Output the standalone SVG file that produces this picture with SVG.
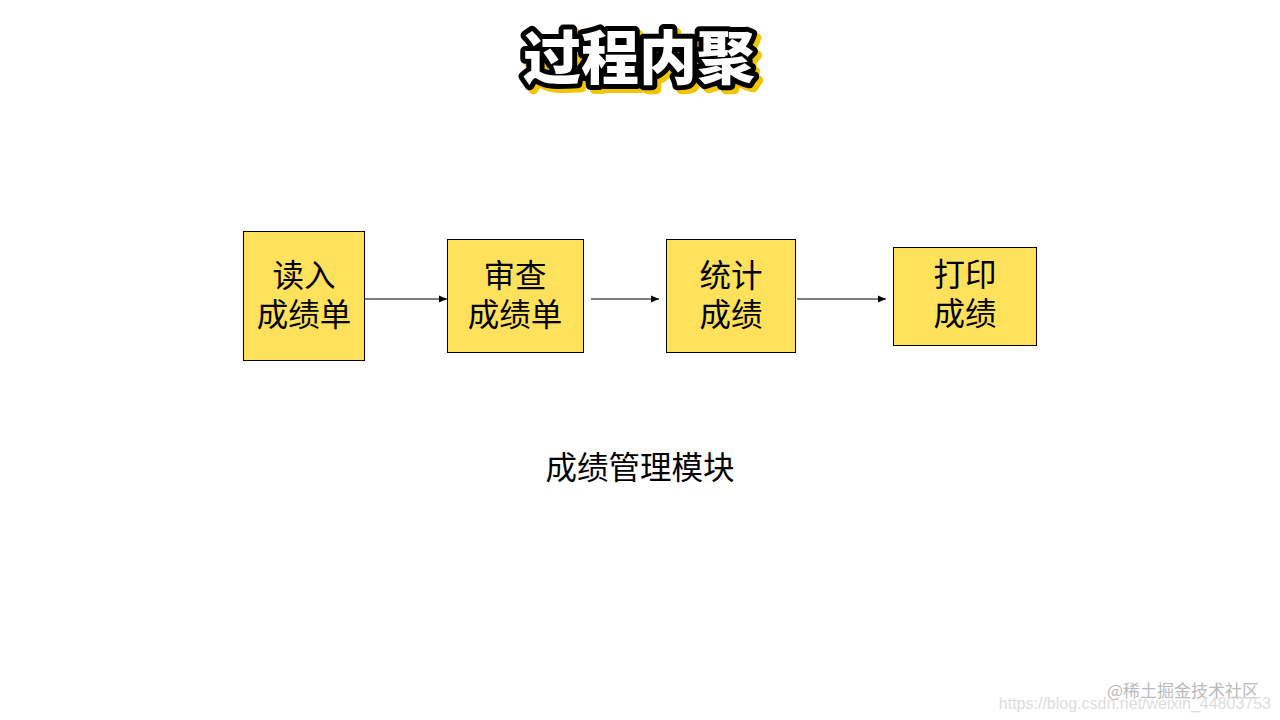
<svg xmlns="http://www.w3.org/2000/svg" width="1280" height="720" viewBox="0 0 1280 720">
<style>
.box{fill:#FFE15C;stroke:#000;stroke-width:1}
.t{font-family:"Noto Sans CJK SC",sans-serif;font-size:31.5px;fill:#000;text-anchor:middle}
.c{stroke:#000;stroke-width:1;fill:none;marker-end:url(#a)}
.title{font-family:"Noto Sans CJK SC",sans-serif;font-size:58px;font-weight:900;text-anchor:middle}
</style>
<defs><marker id="a" markerWidth="8" markerHeight="8" refX="8" refY="4" orient="auto" markerUnits="userSpaceOnUse"><path d="M0,0.5 L8,4 L0,7.5 Z" fill="#000"/></marker></defs>
<rect width="1280" height="720" fill="#fff"/>
<g id="title">
<text class="title" x="643" y="83" fill="#F2C500" stroke="#F2C500" stroke-width="10" stroke-linejoin="round">过程内聚</text>
<text class="title" x="639" y="79" fill="#000" stroke="#000" stroke-width="10" stroke-linejoin="round">过程内聚</text>
<text class="title" x="639" y="79" fill="#fff">过程内聚</text>
</g>
<g id="connectors">
<line class="c" x1="365" y1="299" x2="447" y2="299"/>
<line class="c" x1="591" y1="299" x2="659" y2="299"/>
<line class="c" x1="797" y1="299" x2="886" y2="299"/>
</g>
<g id="n1"><rect class="box" x="243.5" y="231.5" width="121" height="129"/><text class="t" x="304" y="287">读入</text><text class="t" x="304" y="326">成绩单</text></g>
<g id="n2"><rect class="box" x="447.5" y="239.5" width="136" height="113"/><text class="t" x="515" y="287">审查</text><text class="t" x="515" y="326">成绩单</text></g>
<g id="n3"><rect class="box" x="666.5" y="239.5" width="129" height="113"/><text class="t" x="731" y="287">统计</text><text class="t" x="731" y="326">成绩</text></g>
<g id="n4"><rect class="box" x="893.5" y="247.5" width="143" height="98"/><text class="t" x="965" y="286">打印</text><text class="t" x="965" y="325">成绩</text></g>
<text class="t" x="640" y="479">成绩管理模块</text>
<text x="1259" y="697" font-family="Noto Sans CJK SC,sans-serif" font-size="17" fill="#bbb" text-anchor="end">@稀土掘金技术社区</text>
<text x="1271" y="709" font-family="Liberation Sans,sans-serif" font-size="16" fill="#ddd" text-anchor="end">https://blog.csdn.net/weixin_44803753</text>
</svg>
